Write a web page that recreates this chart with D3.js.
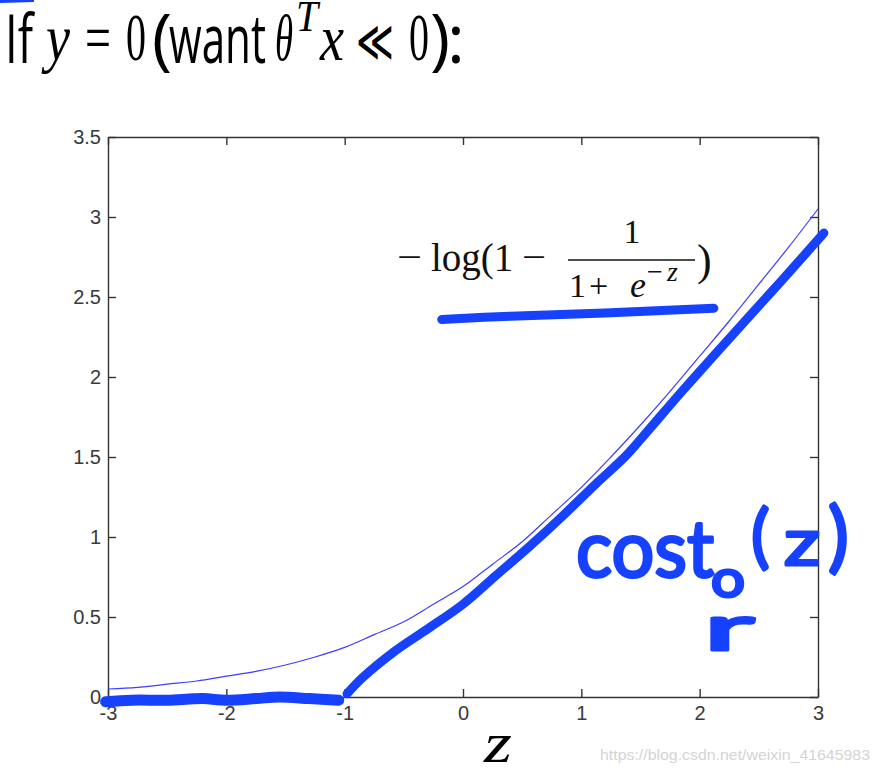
<!DOCTYPE html>
<html><head><meta charset="utf-8">
<script src="https://cdn.jsdelivr.net/npm/d3@7"></script>
<style>body{margin:0;background:#fff}</style></head>
<body><svg id="c" width="880" height="774"></svg>
<script>
// ---- data ----
const xTicks = [-3, -2, -1, 0, 1, 2, 3];
const xTickLabels = ["-3", "-2", "-1", "0", "1", "2", "3"];
const yTicks = [0, 0.5, 1, 1.5, 2, 2.5, 3, 3.5];
const yTickLabels = ["0", "0.5", "1", "1.5", "2", "2.5", "3", "3.5"];

// thin curve  -log(1 - 1/(1+e^-z))
const logZ = [-3, -2.75, -2.5, -2.25, -2, -1.75, -1.5, -1.25, -1, -0.75, -0.5, -0.25, 0, 0.25, 0.5, 0.75, 1, 1.25, 1.5, 1.75, 2, 2.25, 2.5, 2.75, 3];
const logY = [0.05, 0.06, 0.08, 0.10, 0.13, 0.16, 0.20, 0.25, 0.31, 0.39, 0.47, 0.58, 0.69, 0.83, 0.97, 1.14, 1.31, 1.50, 1.70, 1.91, 2.13, 2.35, 2.58, 2.81, 3.05];

// hand-drawn cost0(z): flat stroke and rising stroke
const flatZ = [-3.02, -2.8, -2.5, -2.2, -2.0, -1.75, -1.55, -1.3, -1.05];
const flatY = [-0.03, -0.02, -0.02, -0.01, -0.02, -0.01, 0.0, -0.01, -0.02];
const riseZ = [-0.98, -0.85, -0.57, -0.29, 0, 0.28, 0.56, 0.84, 1.12, 1.38, 1.57, 1.85, 2.14, 2.42, 2.69, 3.05];
const riseY = [0.02, 0.12, 0.29, 0.43, 0.58, 0.76, 0.94, 1.13, 1.33, 1.51, 1.67, 1.91, 2.15, 2.38, 2.60, 2.90];

// hand-drawn underline under the formula label
const underZ = [-0.18, 0.4, 1.2, 2.12];
const underY = [2.36, 2.38, 2.40, 2.43];

const svg = d3.select("#c");
const x = d3.scaleLinear().domain([-3, 3]).range([108, 818]);
const y = d3.scaleLinear().domain([0, 3.5]).range([697, 137]);
const INK = "#1541ff";
const axisColor = "#333";
const tickFont = "'Liberation Sans', Arial, sans-serif";

// ---- title ----
const T = svg.append("g").attr("fill", "#000");
const sans = "'Open Sans', 'Noto Sans', sans-serif";
const serif = "'Liberation Serif', 'DejaVu Serif', serif";
function piece(txt, px, py, fam, size, len, italic) {
  const t = T.append("text").attr("x", px).attr("y", py).attr("font-family", fam).attr("font-size", size).text(txt);
  if (italic) t.attr("font-style", "italic");
  if (len) t.attr("textLength", len).attr("lengthAdjust", "spacingAndGlyphs");
  return t;
}
piece("If", 5, 63, sans, 68, 28);
piece("y", 46, 60, serif, 66, 24, true);
piece("=", 85, 60, serif, 66, 26);
piece("0", 126, 60, serif, 68, 20);
piece("(", 152, 62, sans, 68, 0);
piece("want", 169, 63, sans, 68, 97);
piece("θ", 275, 60, serif, 66, 18, true);
piece("T", 296, 31, serif, 44, 22, true);
piece("x", 320, 60, serif, 66, 24, true);
piece("≪", 356, 61, serif, 58, 38);
piece("0", 409, 60, serif, 68, 20);
piece(")", 430, 62, sans, 68, 0);
piece(":", 447, 63, sans, 68, 0);
// tiny ink mark in the corner
svg.append("path").attr("d", d3.line()([[0, 1.5], [34, 0.5]])).attr("stroke", INK).attr("stroke-width", 3).attr("fill", "none");

// ---- axes (inward ticks on all four sides) ----
function styleAxis(g) {
  g.select(".domain").attr("stroke", axisColor).attr("stroke-width", 1.4);
  g.selectAll(".tick line").attr("stroke", axisColor).attr("stroke-width", 1.4);
  g.selectAll(".tick text").attr("fill", "#3a3a3a").attr("font-family", tickFont).attr("font-size", 20);
}
svg.append("g").attr("transform", "translate(0,697)")
  .call(d3.axisBottom(x).tickValues(xTicks).tickFormat((d, i) => xTickLabels[i]).tickSizeInner(-8).tickSizeOuter(0).tickPadding(9))
  .call(styleAxis);
svg.append("g").attr("transform", "translate(0,137)")
  .call(d3.axisTop(x).tickValues(xTicks).tickFormat("").tickSizeInner(-8).tickSizeOuter(0))
  .call(styleAxis);
svg.append("g").attr("transform", "translate(108,0)")
  .call(d3.axisLeft(y).tickValues(yTicks).tickFormat((d, i) => yTickLabels[i]).tickSizeInner(-8).tickSizeOuter(0).tickPadding(7))
  .call(styleAxis);
svg.append("g").attr("transform", "translate(818,0)")
  .call(d3.axisRight(y).tickValues(yTicks).tickFormat("").tickSizeInner(-8).tickSizeOuter(0))
  .call(styleAxis);

// ---- thin curve ----
const line = d3.line().x(d => x(d[0])).y(d => y(d[1])).curve(d3.curveCatmullRom);
svg.append("path").datum(logZ.map((z, i) => [z, logY[i]]))
  .attr("d", line).attr("fill", "none").attr("stroke", "#3d3dff").attr("stroke-width", 1.2);

// ---- formula label ----
const F = svg.append("g").attr("font-family", serif).attr("fill", "#111");
F.append("text").attr("x", 397).attr("y", 270).attr("font-size", 38).attr("textLength", 25).attr("lengthAdjust", "spacingAndGlyphs").text("−");
F.append("text").attr("x", 431).attr("y", 271).attr("font-size", 39).text("log(1");
F.append("text").attr("x", 522).attr("y", 270).attr("font-size", 38).attr("textLength", 24).attr("lengthAdjust", "spacingAndGlyphs").text("−");
F.append("text").attr("x", 632).attr("y", 243).attr("font-size", 34).attr("text-anchor", "middle").text("1");
F.append("line").attr("x1", 568).attr("x2", 695).attr("y1", 260).attr("y2", 260).attr("stroke", "#111").attr("stroke-width", 1.6);
F.append("text").attr("x", 569).attr("y", 297).attr("font-size", 34).text("1");
F.append("text").attr("x", 589).attr("y", 297).attr("font-size", 34).text("+");
F.append("text").attr("x", 630).attr("y", 297).attr("font-size", 36).attr("font-style", "italic").text("e");
F.append("text").attr("x", 647).attr("y", 281).attr("font-size", 28).text("−");
F.append("text").attr("x", 667).attr("y", 281).attr("font-size", 28).attr("font-style", "italic").text("z");
F.append("text").attr("x", 697).attr("y", 275).attr("font-size", 44).text(")");

// ---- hand-drawn ink ----
const inkLine = d3.line().x(d => x(d[0])).y(d => y(d[1])).curve(d3.curveCatmullRom);
svg.append("path").datum(underZ.map((z, i) => [z, underY[i]]))
  .attr("d", inkLine).attr("fill", "none").attr("stroke", INK).attr("stroke-width", 9).attr("stroke-linecap", "round");
svg.append("path").datum(flatZ.map((z, i) => [z, flatY[i]]))
  .attr("d", inkLine).attr("fill", "none").attr("stroke", INK).attr("stroke-width", 11).attr("stroke-linecap", "round");
svg.append("path").datum(riseZ.map((z, i) => [z, riseY[i]]))
  .attr("d", inkLine).attr("fill", "none").attr("stroke", INK).attr("stroke-width", 9).attr("stroke-linecap", "round").attr("stroke-linejoin", "round");

// handwritten cost_0(z)
const H = svg.append("g").attr("fill", INK).attr("stroke", INK).attr("stroke-width", 3)
  .attr("stroke-linejoin", "round").attr("font-family", "Lato, 'Open Sans', sans-serif").attr("font-weight", 400);
H.append("text").attr("x", 576).attr("y", 577).attr("font-size", 80)
  .attr("textLength", 138).attr("lengthAdjust", "spacingAndGlyphs").text("cost");
H.append("text").attr("x", 711).attr("y", 597).attr("font-size", 52)
  .attr("textLength", 34).attr("lengthAdjust", "spacingAndGlyphs").text("o");
H.append("text").attr("x", 704).attr("y", 650).attr("font-size", 62)
  .attr("textLength", 50).attr("lengthAdjust", "spacingAndGlyphs").text("r");
H.append("text").attr("x", 751).attr("y", 560).attr("font-size", 70).text("(");
H.append("text").attr("x", 784).attr("y", 565).attr("font-size", 64)
  .attr("textLength", 36).attr("lengthAdjust", "spacingAndGlyphs").text("z");
H.append("text").attr("x", 828).attr("y", 563).attr("font-size", 78).text(")");

// ---- x label and watermark ----
svg.append("text").attr("x", 484).attr("y", 762).attr("font-family", serif).attr("font-style", "italic")
  .attr("font-size", 56).attr("textLength", 28).attr("lengthAdjust", "spacingAndGlyphs").text("z");
svg.append("text").attr("x", 600).attr("y", 760).attr("font-family", tickFont).attr("font-size", 15)
  .attr("fill", "#d4d4d4").attr("textLength", 270).attr("lengthAdjust", "spacingAndGlyphs")
  .text("https://blog.csdn.net/weixin_41645983");
</script></body></html>
